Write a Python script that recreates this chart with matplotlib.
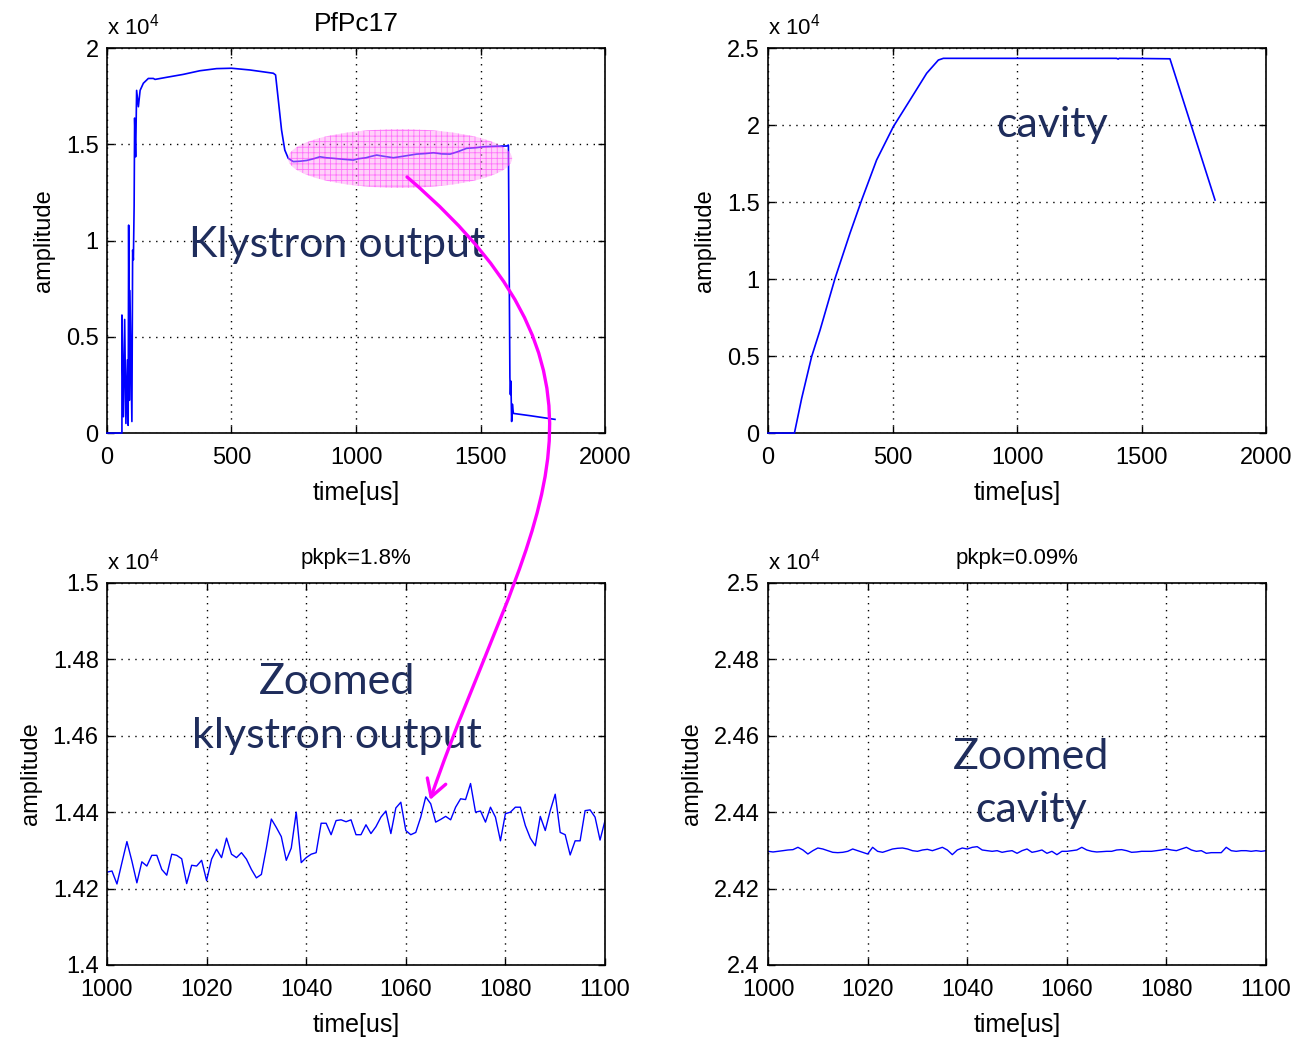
import numpy as np
import matplotlib
matplotlib.use("Agg")
import matplotlib.pyplot as plt
from matplotlib.patches import Ellipse, FancyArrowPatch
from matplotlib.path import Path

# ---- data (amplitudes in units of 1e4) ----
klys_t = [0, 60, 60, 66, 71, 76, 82, 85, 87, 90, 92, 100, 103, 106, 109, 111,
          115, 119, 126, 133, 146, 166, 186, 193, 240, 306, 373, 440, 500, 574,
          668, 677, 688, 701, 714, 728, 748, 775, 802, 830, 855, 880, 909, 950,
          989, 1010, 1040, 1060, 1083, 1110, 1150, 1200, 1243, 1280, 1311, 1345,
          1378, 1410, 1444, 1480, 1511, 1560, 1605, 1612, 1618, 1620, 1622, 1625,
          1628, 1632, 1700, 1799]
klys_amp = [0, 0, 0.613, 0.085, 0.59, 0.05, 0.38, 0.04, 1.08, 0.17, 0.74, 0.06,
            0.95, 0.90, 1.18, 1.636, 1.435, 1.78, 1.695, 1.78, 1.817, 1.842,
            1.842, 1.837, 1.848, 1.863, 1.882, 1.893, 1.895, 1.886, 1.869, 1.86,
            1.73, 1.574, 1.47, 1.427, 1.41, 1.412, 1.416, 1.425, 1.435, 1.43,
            1.427, 1.422, 1.418, 1.425, 1.43, 1.437, 1.444, 1.438, 1.43, 1.44,
            1.449, 1.452, 1.456, 1.45, 1.449, 1.462, 1.479, 1.482, 1.487, 1.49,
            1.491, 1.496, 0.29, 0.20, 0.27, 0.06, 0.15, 0.102, 0.09, 0.071]

cav_t = [0, 106, 135, 175, 209, 269, 329, 376, 436, 503, 570, 637, 684, 704,
         1000, 1400, 1406, 1410, 1500, 1614, 1795]
cav_amp = [0, 0, 0.225, 0.496, 0.669, 1.004, 1.297, 1.513, 1.773, 1.989, 2.162,
           2.336, 2.422, 2.433, 2.433, 2.433, 2.428, 2.433, 2.432, 2.430, 1.513]

zoom_t = np.arange(1000, 1101)  # 1 us sampling
zoom_klys = [1.4243, 1.4246, 1.4212, 1.4268, 1.4323, 1.4272, 1.4215, 1.4270,
             1.4259, 1.4287, 1.4287, 1.4250, 1.4235, 1.4290, 1.4287, 1.4278,
             1.4213, 1.4261, 1.4259, 1.4274, 1.4221, 1.4277, 1.4303, 1.4281,
             1.4332, 1.4290, 1.4281, 1.4294, 1.4277, 1.4250, 1.4228, 1.4237,
             1.4306, 1.4382, 1.4360, 1.4336, 1.4274, 1.4306, 1.4400, 1.4268,
             1.4281, 1.4290, 1.4294, 1.4371, 1.4371, 1.4341, 1.4378, 1.4380,
             1.4375, 1.4380, 1.4341, 1.4341, 1.4367, 1.4344, 1.4362, 1.4387,
             1.4403, 1.4344, 1.4411, 1.4426, 1.4352, 1.4341, 1.4347, 1.4387,
             1.4440, 1.4422, 1.4374, 1.4381, 1.4389, 1.4380, 1.4413, 1.4435,
             1.4433, 1.4475, 1.4400, 1.4403, 1.4374, 1.4413, 1.4387, 1.4325,
             1.4396, 1.4400, 1.4413, 1.4413, 1.4365, 1.4332, 1.4312, 1.4389,
             1.4352, 1.4404, 1.4447, 1.4347, 1.4341, 1.4288, 1.4325, 1.4325,
             1.4404, 1.4406, 1.4387, 1.4327, 1.4378]
zoom_cav = [2.42975, 2.42958, 2.42975, 2.42992, 2.43010, 2.43019, 2.43080,
            2.43010, 2.42905, 2.42992, 2.43062, 2.43036, 2.42992, 2.42949,
            2.42940, 2.42949, 2.42975, 2.43036, 2.42992, 2.42949, 2.42905,
            2.43080, 2.42975, 2.42949, 2.42992, 2.43036, 2.43054, 2.43062,
            2.43036, 2.42992, 2.42975, 2.43010, 2.43027, 2.42992, 2.43036,
            2.43080, 2.43010, 2.42888, 2.43010, 2.43062, 2.43036, 2.43080,
            2.43097, 2.43010, 2.42992, 2.42975, 2.42992, 2.42949, 2.42975,
            2.42992, 2.42923, 2.42992, 2.43036, 2.42949, 2.42975, 2.43010,
            2.42923, 2.42975, 2.42888, 2.42975, 2.42975, 2.42992, 2.43010,
            2.43080, 2.43010, 2.42975, 2.42958, 2.42966, 2.42975, 2.42975,
            2.43010, 2.43019, 2.42992, 2.42949, 2.42958, 2.42975, 2.42975,
            2.42975, 2.42992, 2.43010, 2.43036, 2.43010, 2.42992, 2.43036,
            2.43080, 2.43010, 2.42975, 2.42992, 2.42923, 2.42940, 2.42940,
            2.42940, 2.43080, 2.42992, 2.42975, 2.42992, 2.42992, 2.42975,
            2.42992, 2.42975, 2.42992]

plt.rcParams['font.family'] = ['Liberation Sans', 'DejaVu Sans']
plt.rcParams['mathtext.default'] = 'regular'
plt.rcParams['hatch.linewidth'] = 0.6

navy = '#1f2d5c'
fig = plt.figure(figsize=(13, 10.44), dpi=100)

# axes positions (fig fraction), MATLAB-like 2x2 layout
ax1 = fig.add_axes([0.0823, 0.5852, 0.3831, 0.3688])
ax2 = fig.add_axes([0.5908, 0.5852, 0.3831, 0.3688])
ax3 = fig.add_axes([0.0823, 0.0757, 0.3831, 0.3659])
ax4 = fig.add_axes([0.5908, 0.0757, 0.3831, 0.3659])


def style(ax, xlim, ylim, yticks, ylabels, xticks):
    ax.set_xlim(*xlim)
    ax.set_ylim(*ylim)
    ax.set_xticks(xticks)
    ax.set_xticklabels([str(v) for v in xticks])
    ax.set_yticks(yticks)
    ax.set_yticklabels(ylabels)
    ax.grid(True, color='k', linestyle=(0, (1, 4)), linewidth=1.0)
    ax.tick_params(direction='in', length=5, width=1, top=True, right=True,
                   labelsize=17)
    ax.tick_params(axis='x', pad=10)
    ax.tick_params(axis='y', pad=6)
    for s in ax.spines.values():
        s.set_linewidth(1.2)
    ax.set_xlabel('time[us]', fontsize=18, labelpad=9)
    ax.set_ylabel('amplitude', fontsize=17, labelpad=8)
    ax.text(0.0, 1.035, 'x 10$^{4}$', transform=ax.transAxes, fontsize=16,
            ha='left', va='baseline')


# top-left: klystron output
ax1.plot(klys_t, klys_amp, color='#0000ff', lw=1.2, clip_on=False, zorder=3)
style(ax1, (0, 2000), (0, 2), [0, 0.5, 1, 1.5, 2], ['0', '0.5', '1', '1.5', '2'],
      [0, 500, 1000, 1500, 2000])
ax1.set_title('PfPc17', fontsize=19, pad=12)
ell = Ellipse((1177, 1.426), 900, 0.306, facecolor=(1.0, 0.6, 0.95, 0.45),
              edgecolor=(1.0, 0.0, 1.0, 0.45), hatch='+++', lw=0, zorder=4)
ax1.add_patch(ell)
ax1.text(0.462, 0.488, 'Klystron output', transform=ax1.transAxes, fontsize=31,
         family='Lato', color=navy, ha='center', va='center', zorder=5)

# top-right: cavity
ax2.plot(cav_t, cav_amp, color='#0000ff', lw=1.2, clip_on=False, zorder=3)
style(ax2, (0, 2000), (0, 2.5), [0, 0.5, 1, 1.5, 2, 2.5],
      ['0', '0.5', '1', '1.5', '2', '2.5'], [0, 500, 1000, 1500, 2000])
ax2.text(0.57, 0.80, 'cavity', transform=ax2.transAxes, fontsize=31,
         family='Lato', color=navy, ha='center', va='center')

# bottom-left: zoomed klystron
ax3.plot(zoom_t, zoom_klys, color='#0000ff', lw=1.0)
style(ax3, (1000, 1100), (1.4, 1.5), [1.4, 1.42, 1.44, 1.46, 1.48, 1.5],
      ['1.4', '1.42', '1.44', '1.46', '1.48', '1.5'],
      [1000, 1020, 1040, 1060, 1080, 1100])
ax3.set_title('pkpk=1.8%', fontsize=16, pad=14)
ax3.text(0.462, 0.670, 'Zoomed\nklystron output', transform=ax3.transAxes,
         fontsize=31, family='Lato', color=navy, ha='center', va='center',
         linespacing=1.5)

# bottom-right: zoomed cavity
ax4.plot(zoom_t, zoom_cav, color='#0000ff', lw=1.0)
style(ax4, (1000, 1100), (2.4, 2.5), [2.4, 2.42, 2.44, 2.46, 2.48, 2.5],
      ['2.4', '2.42', '2.44', '2.46', '2.48', '2.5'],
      [1000, 1020, 1040, 1060, 1080, 1100])
ax4.set_title('pkpk=0.09%', fontsize=16, pad=14)
ax4.text(0.528, 0.475, 'Zoomed\ncavity', transform=ax4.transAxes,
         fontsize=31, family='Lato', color=navy, ha='center', va='center',
         linespacing=1.5)

# magenta arrow from the highlighted region down to the zoomed plot
verts = [(0.3131, 0.8305), (0.5046, 0.6264), (0.4015, 0.4904), (0.3308, 0.2337)]
codes = [Path.MOVETO, Path.CURVE4, Path.CURVE4, Path.CURVE4]
arrow = FancyArrowPatch(path=Path(verts, codes), transform=fig.transFigure,
                        arrowstyle='->,head_length=0.6,head_width=0.35',
                        mutation_scale=20, color='#ff00ff', lw=2.4, zorder=10)
fig.add_artist(arrow)

fig.savefig('out.png', dpi=100)
